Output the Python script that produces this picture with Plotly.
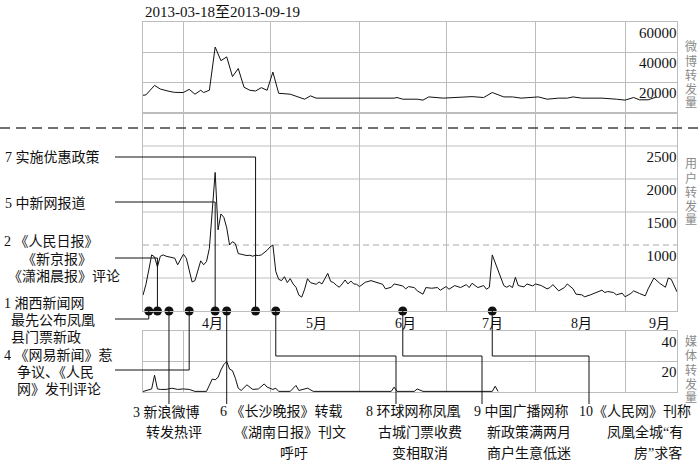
import pandas as pd
import plotly.graph_objects as go

START = pd.Timestamp("2013-03-18")
END = pd.Timestamp("2013-09-19")

# 微博转发量 (day offset from START, value)
weibo_days = [0, 1, 4, 6, 9, 11, 14, 16, 18, 20, 21, 23, 25, 27, 29, 31, 33, 35, 37, 39, 41, 43, 45, 47,
              51, 56, 58, 60, 87, 88, 90, 95, 97, 99, 104, 108, 111, 114, 118, 121, 125, 128, 131, 137,
              140, 144, 147, 149, 152, 159, 164, 167, 170, 172, 175, 178]
weibo_vals = [11700, 11900, 18200, 15800, 14300, 13600, 13500, 15600, 12400, 15000, 13500, 15000, 43500,
              34500, 37000, 24000, 29300, 17000, 15000, 14500, 16700, 15000, 27000, 13000, 12400, 9100,
              11300, 9800, 9800, 10200, 9100, 9100, 8500, 10600, 9800, 10200, 10600, 10800, 10200, 13500,
              10600, 10600, 9800, 10600, 9100, 9800, 9800, 10600, 9800, 9800, 9100, 8500, 10200, 8700,
              8700, 10600]

# 用户转发量
user_days = [0, 1, 2, 3, 4, 5, 6, 7, 8, 9, 10, 11, 12, 13, 14, 15, 16, 17, 18, 19, 20, 21, 22, 23, 24,
             25, 26, 27, 28, 29, 30, 31, 32, 33, 34, 35, 36, 37, 38, 39, 40, 41, 42, 43, 44, 45, 46, 47,
             48, 49, 50, 51, 52, 53, 54, 55, 56, 57, 58, 59, 60, 61, 62, 63, 64, 65, 66, 67, 68, 69, 70,
             71, 72, 73, 74, 75, 77, 79, 81, 83, 84, 86, 87, 88, 90, 91, 92, 94, 95, 97, 98, 100, 102,
             103, 105, 106, 108, 110, 112, 113, 114, 116, 118, 119, 120, 121, 122, 123, 124, 125, 126,
             127, 128, 129, 130, 132, 133, 135, 136, 138, 140, 141, 142, 144, 146, 147, 149, 150, 152,
             153, 155, 157, 159, 160, 161, 163, 164, 166, 167, 169, 170, 172, 174, 175, 177, 179, 181,
             182, 183, 185]
user_vals = [240, 400, 620, 850, 820, 670, 830, 850, 830, 820, 810, 800, 700, 780, 860, 800, 600, 440,
             460, 620, 760, 700, 750, 950, 1550, 2100, 1230, 1470, 1420, 1260, 1000, 1050, 1020, 870,
             860, 850, 840, 845, 830, 845, 840, 850, 880, 920, 970, 1000, 600, 480, 460, 520, 430, 490,
             410, 360, 240, 210, 330, 490, 430, 420, 405, 440, 410, 490, 570, 450, 430, 390, 360, 410,
             470, 410, 455, 410, 405, 370, 435, 460, 430, 405, 335, 360, 410, 400, 380, 335, 370, 355,
             305, 255, 355, 345, 355, 315, 370, 330, 385, 355, 400, 355, 420, 355, 385, 330, 360, 850,
             740, 610, 510, 385, 360, 385, 355, 510, 385, 365, 410, 380, 410, 385, 335, 355, 400, 305,
             355, 410, 335, 255, 245, 215, 245, 280, 315, 280, 295, 280, 245, 270, 215, 265, 305, 265,
             230, 335, 500, 420, 360, 500, 480, 290]

# 媒体转发量
media_days = [0, 1, 3, 4, 5, 6, 8, 10, 12, 14, 16, 18, 22, 24, 25, 26, 27, 28, 29, 30, 31, 32, 33, 34,
              36, 38, 40, 42, 43, 45, 46, 47, 51, 53, 54, 57, 59, 86, 87, 88, 94, 95, 97, 121, 122, 123]
media_vals = [0.3, 1, 2, 11, 2, 1.7, 1.7, 2.5, 1.7, 2, 1.7, 0.4, 0.4, 8.5, 8, 9.6, 14.5, 18, 20, 15, 14,
              9, 2.5, 1, 4.7, 1.7, 2, 5.3, 3.2, 1.7, 2.5, 0.4, 0.4, 4.3, 1, 2.5, 0.4, 0.4, 3.2, 0.4, 0.4,
              2, 0.4, 0.4, 3.8, 0.4]

event_dates = ["2013-03-20", "2013-03-23", "2013-03-27", "2013-04-03", "2013-04-12",
               "2013-04-16", "2013-04-26", "2013-05-03", "2013-06-16", "2013-07-17"]

month_starts = ["2013-04-01", "2013-05-01", "2013-06-01", "2013-07-01", "2013-08-01", "2013-09-01"]
month_label_dates = ["2013-04-11", "2013-05-17", "2013-06-17", "2013-07-17", "2013-08-17", "2013-09-13"]
month_labels = ["4月", "5月", "6月", "7月", "8月", "9月"]

weibo_ticks = [20000, 40000, 60000]
user_ticks = [1000, 1500, 2000, 2500]
user_grid = [500, 1500, 2000, 2500]
media_ticks = [20, 40]

SERIF = "Liberation Serif, Noto Sans CJK SC"
GRID = "#bdbdbd"
INK = "#111111"

# plot area in pixels
L, R, T, B = 143, 677, 22, 392


def fx(p):
    return (p - L) / (R - L)


def fy(p):
    return (B - p) / (B - T)


def dx(d):
    return (pd.Timestamp(d) - START) / (END - START)


def to_dates(days):
    return [START + pd.Timedelta(days=d) for d in days]


fig = go.Figure()
line = {"color": INK, "width": 1}
fig.add_trace(go.Scatter(x=to_dates(weibo_days), y=weibo_vals, xaxis="x", yaxis="y", mode="lines", line=line))
fig.add_trace(go.Scatter(x=to_dates(user_days), y=user_vals, xaxis="x2", yaxis="y2", mode="lines", line=line))
fig.add_trace(go.Scatter(x=to_dates(media_days), y=media_vals, xaxis="x3", yaxis="y3", mode="lines", line=line))
fig.add_trace(go.Scatter(x=event_dates, y=[0] * len(event_dates), xaxis="x2", yaxis="y2", mode="markers",
                         marker={"size": 9, "color": INK}, cliponaxis=False))

xbase = dict(
    range=[START, END], showgrid=False, zeroline=False, showline=True, mirror=True,
    linecolor=GRID, linewidth=1, ticks="", showticklabels=False,
    minor=dict(tickmode="array", tickvals=month_starts, showgrid=True, gridcolor=GRID, gridwidth=1, ticks=""),
)
ybase = dict(
    side="right", ticklabelposition="inside bottom", showline=True, mirror=True, linecolor=GRID,
    linewidth=1, zeroline=False, ticks="", gridcolor=GRID, gridwidth=1, tickformat="d",
    tickfont={"family": "Liberation Serif", "size": 15, "color": INK},
)

fig.update_layout(
    width=700, height=466,
    margin={"l": L, "r": 700 - R, "t": T, "b": 466 - B},
    paper_bgcolor="white", plot_bgcolor="white", showlegend=False,
    xaxis=dict(xbase, anchor="y"),
    xaxis2=dict(xbase, anchor="y2"),
    xaxis3=dict(xbase, anchor="y3"),
    yaxis=dict(ybase, anchor="x", domain=[fy(113), 1], range=[0, 60000], tickvals=weibo_ticks, showgrid=True),
    yaxis2=dict(ybase, anchor="x2", domain=[fy(311), fy(113)], range=[0, 3000], tickvals=user_ticks,
                showgrid=False),
    yaxis3=dict(ybase, anchor="x3", domain=[0, fy(331)], range=[0, 40], tickvals=media_ticks, showgrid=True),
)

# month labels on the middle time axis
for d, m in zip(month_label_dates, month_labels):
    fig.add_annotation(text=m, xref="x2", yref="paper", x=d, y=fy(323), xanchor="center", yanchor="middle",
                       showarrow=False, font={"family": SERIF, "size": 14, "color": INK})

# middle panel grid, 1000 dashed
for v in user_grid:
    fig.add_shape(type="line", xref="paper", yref="y2", x0=0, x1=1, y0=v, y1=v,
                  line={"color": GRID, "width": 1}, layer="below")
fig.add_shape(type="line", xref="paper", yref="y2", x0=0, x1=1, y0=1000, y1=1000,
              line={"color": "#aaaaaa", "width": 1, "dash": "6px,4px"}, layer="below")

# separator
fig.add_shape(type="line", xref="paper", yref="paper", x0=fx(0), x1=fx(700), y0=fy(128), y1=fy(128),
              line={"color": "#444444", "width": 1.5, "dash": "10px,6px"})

# leader lines
DOT_Y, ELBOW_Y, END_Y, LEFT_X = 311, 356, 404, 115
leaders = [("left", 319), ("left", 258), ("down", None), ("left", 370), ("left", 202),
           ("down", None), ("left", 157), ("elbow", 396), ("elbow", 482), ("elbow", 589)]
for d, (kind, v) in zip(event_dates, leaders):
    ex = dx(d)
    if kind == "left":
        pts = [(fx(LEFT_X), fy(v)), (ex, fy(v)), (ex, fy(DOT_Y))]
    elif kind == "down":
        pts = [(ex, fy(DOT_Y)), (ex, fy(END_Y))]
    else:
        pts = [(ex, fy(DOT_Y)), (ex, fy(ELBOW_Y)), (fx(v), fy(ELBOW_Y)), (fx(v), fy(END_Y))]
    path = "M " + " L ".join(f"{a},{b}" for a, b in pts)
    fig.add_shape(type="path", xref="paper", yref="paper", path=path, line={"color": INK, "width": 1})

labels = [
    ("7 实施优惠政策", 3, 157),
    ("5 中新网报道", 3, 203),
    ("2 《人民日报》", 2, 242), ("《新京报》", 20, 259), ("《潇湘晨报》评论", 6, 276),
    ("1 湘西新闻网", 2, 303), ("最先公布凤凰", 9, 320), ("县门票新政", 9, 337),
    ("4 《网易新闻》惹", 2, 355), ("争议、《人民", 15, 372), ("网》发刊评论", 15, 389),
    ("3 新浪微博", 131, 412), ("转发热评", 144, 432),
    ("6 《长沙晚报》转载", 218, 412), ("《湖南日报》刊文", 232, 432), ("呼吁", 278, 453),
    ("8 环球网称凤凰", 364, 412), ("古城门票收费", 376, 432), ("变相取消", 390, 453),
    ("9 中国广播网称", 472, 412), ("新政策满两月", 485, 432), ("商户生意低迷", 485, 453),
    ("10《人民网》刊称", 577, 412), ("凤凰全城“有", 605, 432), ("房”求客", 632, 453),
]
for text, x, y in labels:
    fig.add_annotation(text=text, xref="paper", yref="paper", x=fx(x), y=fy(y), xanchor="left",
                       yanchor="middle", showarrow=False, font={"family": SERIF, "size": 14, "color": INK})

fig.add_annotation(text="2013-03-18至2013-09-19", xref="paper", yref="paper", x=fx(143), y=fy(12),
                   xanchor="left", yanchor="middle", showarrow=False,
                   font={"family": SERIF, "size": 15, "color": INK})

for title, yc in [("微博转发量", 75), ("用户转发量", 192), ("媒体转发量", 370)]:
    for i, ch in enumerate(title):
        fig.add_annotation(text=ch, xref="paper", yref="paper", x=fx(691), y=fy(yc + (i - 2) * 14),
                           xanchor="center", yanchor="middle", showarrow=False,
                           font={"family": SERIF, "size": 12, "color": "#8a8a8a"})

fig.write_html("out.html", config={"displayModeBar": False},
               post_script="document.body.style.margin = '0';")
